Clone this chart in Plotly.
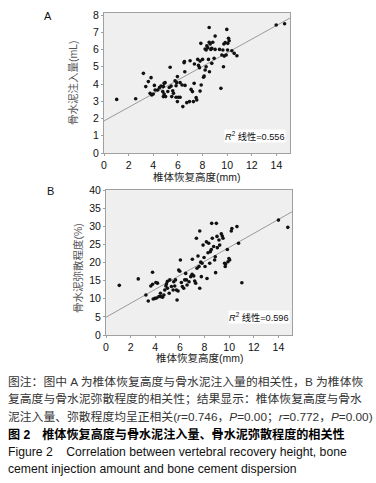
import plotly.graph_objects as go

# ---------- Data: panel A (recovery height vs cement injection amount) ----------
a_height = [1.03, 2.57, 3.2, 3.39, 3.6, 3.82, 3.74, 3.88, 4.0, 4.15, 4.09, 4.36, 4.5, 4.63,
            4.82, 4.88, 4.96, 4.77, 4.88, 4.82, 5.0, 5.18, 5.3, 5.37, 5.45, 5.58, 5.64, 5.5,
            5.77, 5.85, 5.96, 5.9, 6.04, 5.85, 5.96, 6.18, 6.4, 6.5, 6.53, 6.18, 6.34, 6.56,
            6.58, 6.72, 6.94, 6.99, 7.07, 7.18, 7.26, 7.32, 7.34, 7.48, 7.53, 7.61, 7.67, 7.75,
            7.8, 7.8, 7.89, 7.86, 8.0, 8.08, 8.21, 8.29, 8.35, 8.43, 8.54, 8.54, 8.62, 8.67,
            8.75, 8.83, 8.48, 8.29, 8.21, 8.13, 8.56, 8.75, 8.94, 9.02, 9.02, 9.38, 9.49, 9.57,
            9.65, 9.7, 9.73, 9.84, 9.76, 9.92, 9.97, 10.03, 10.05, 10.11, 10.16, 10.38, 10.57,
            10.79, 13.98, 14.66]
a_amount = [3.11, 3.15, 4.62, 3.85, 4.14, 4.37, 3.46, 3.36, 3.42, 3.65, 3.92, 3.65, 3.79, 3.88,
            3.85, 4.04, 4.08, 3.56, 3.42, 3.27, 3.27, 3.57, 3.8, 4.97, 3.88, 3.61, 3.46, 3.27,
            4.19, 3.9, 4.43, 4.08, 3.23, 3.23, 2.98, 3.23, 2.69, 5.24, 5.3, 4.08, 3.94, 4.71,
            3.92, 2.92, 2.98, 5.35, 3.69, 3.56, 2.98, 4.04, 5.16, 3.21, 3.07, 5.43, 5.08, 4.95,
            5.33, 3.59, 3.94, 6.36, 5.43, 4.39, 6.03, 5.97, 6.22, 6.1, 7.28, 6.42, 6.32, 6.01,
            6.07, 6.42, 5.43, 5.0, 4.81, 4.46, 4.71, 5.2, 5.49, 6.01, 6.78, 6.01, 3.75, 5.68,
            5.97, 5.0, 6.32, 6.4, 5.62, 5.68, 7.17, 5.97, 6.36, 6.65, 6.51, 5.93, 5.78,
            5.64, 7.42, 7.5]
a_fit_x = [0, 15.1]
a_fit_y = [1.86, 7.83]
a_r2 = "0.556"

# ---------- Data: panel B (recovery height vs cement dispersion) ----------
b_height = [1.08, 2.62, 3.24, 3.43, 3.64, 3.78, 3.78, 3.83, 3.97, 4.05, 4.1, 4.18, 4.29, 4.42,
            4.45, 4.59, 4.7, 4.77, 4.86, 4.99, 4.91, 4.99, 5.13, 5.18, 5.31, 5.45, 5.5, 5.58,
            5.64, 5.72, 5.77, 5.85, 5.9, 5.99, 6.04, 6.12, 6.2, 6.31, 6.39, 6.47, 6.53, 6.58,
            6.74, 6.88, 6.99, 7.01, 7.12, 7.2, 7.28, 7.34, 7.39, 7.47, 7.55, 7.61, 7.61, 7.69,
            7.74, 7.8, 7.88, 7.96, 8.04, 8.15, 8.2, 8.28, 8.34, 8.42, 8.47, 8.55, 8.58, 8.63,
            8.74, 8.82, 8.87, 8.9, 8.96, 9.01, 9.04, 9.17, 9.23, 9.36, 9.44, 9.5, 9.63, 9.68,
            9.71, 9.85, 9.9, 9.98, 10.04, 10.17, 10.22, 10.63, 10.76, 11.03, 14.0, 14.76]
b_dispersion = [13.7, 15.47, 11.05, 9.4, 13.5, 17.3, 14.0, 9.95, 10.1, 14.5, 10.2, 14.3, 10.6,
                11.5, 10.6, 10.4, 11.05, 12.4, 13.5, 14.8, 14.1, 12.9, 11.5, 15.2, 13.4, 12.4,
                14.7, 13.5, 15.2, 12.4, 9.67, 12.15, 17.9, 17.6, 20.7, 14.5, 13.4, 12.9, 15.2,
                17.0, 15.2, 13.8, 14.7, 16.1, 16.75, 20.9, 16.3, 14.9, 14.3, 26.7, 18.4, 21.8,
                18.9, 28.7, 12.9, 20.1, 16.1, 19.8, 24.8, 21.4, 18.9, 25.7, 15.6, 22.7, 25.3,
                19.8, 23.0, 23.6, 30.8, 26.7, 24.4, 20.7, 21.6, 17.2, 30.8, 27.2, 24.1, 26.2,
                24.8, 27.9, 27.3, 26.7, 19.8, 18.9, 19.6, 23.6, 20.2, 21.1, 20.7, 28.7, 29.4,
                29.9, 25.3, 14.4, 31.7, 29.7]
b_fit_x = [0, 15.1]
b_fit_y = [4.9, 34.0]
b_r2 = "0.596"

x_title = "椎体恢复高度(mm)"
a_y_title = "骨水泥注入量(mL)"
b_y_title = "骨水泥弥散程度(%)"

caption_lines = [
    "图注：图中 A 为椎体恢复高度与骨水泥注入量的相关性，B 为椎体恢",
    "复高度与骨水泥弥散程度的相关性；结果显示：椎体恢复高度与骨水",
    "泥注入量、弥散程度均呈正相关(<i>r</i>=0.746，<i>P</i>=0.00；<i>r</i>=0.772，<i>P</i>=0.00)",
]
caption_title_cn = "图 2　椎体恢复高度与骨水泥注入量、骨水泥弥散程度的相关性"
caption_title_en = [
    "Figure 2    Correlation between vertebral recovery height, bone",
    "cement injection amount and bone cement dispersion",
]

W, H = 376, 483
FONT = "Liberation Sans, Arial, Noto Sans CJK SC, sans-serif"
CJK = "Liberation Sans, Noto Sans CJK SC, sans-serif"

fig = go.Figure()

def px_x(p):
    return p / W

def px_y(p):
    return 1 - p / H

# Panel A
fig.add_trace(go.Scatter(x=a_fit_x, y=a_fit_y, mode="lines",
                         line=dict(color="#9a9a9a", width=1), xaxis="x", yaxis="y",
                         showlegend=False, hoverinfo="skip"))
fig.add_trace(go.Scatter(x=a_height, y=a_amount, mode="markers",
                         marker=dict(color="#111111", size=3.6), xaxis="x", yaxis="y",
                         showlegend=False))
# Panel B
fig.add_trace(go.Scatter(x=b_fit_x, y=b_fit_y, mode="lines",
                         line=dict(color="#9a9a9a", width=1), xaxis="x2", yaxis="y2",
                         showlegend=False, hoverinfo="skip"))
fig.add_trace(go.Scatter(x=b_height, y=b_dispersion, mode="markers",
                         marker=dict(color="#111111", size=3.6), xaxis="x2", yaxis="y2",
                         showlegend=False))

axis_common = dict(showgrid=False, zeroline=False, showline=True, mirror=True,
                   automargin=False,
                   linecolor="#a0a0a0", linewidth=1, ticks="outside", ticklen=2,
                   tickcolor="#a0a0a0", tickfont=dict(family=FONT, size=10.5, color="#111"))

fig.update_layout(
    template="none",
    width=W, height=H,
    margin=dict(l=0, r=0, t=0, b=0, pad=0),
    paper_bgcolor="white",
    plot_bgcolor="#efefef",
    font=dict(family=CJK, color="#111"),
    xaxis=dict(domain=[px_x(104), px_x(290)], range=[0, 15.1], anchor="y",
               tickvals=[0, 2, 4, 6, 8, 10, 12, 14], **axis_common),
    yaxis=dict(domain=[px_y(153), px_y(13)], range=[0, 8.12], anchor="x",
               tickvals=list(range(0, 9)), **axis_common),
    xaxis2=dict(domain=[px_x(106), px_x(292)], range=[0, 15.1], anchor="y2",
                tickvals=[0, 2, 4, 6, 8, 10, 12, 14], **axis_common),
    yaxis2=dict(domain=[px_y(335), px_y(190)], range=[0, 40], anchor="x2",
                tickvals=list(range(0, 41, 5)), **axis_common),
)

ann = []
def label(x, y, text, size, color="#111", family=CJK, angle=0):
    ann.append(dict(x=px_x(x), y=px_y(y), xref="paper", yref="paper", text=text,
                    xanchor="center", yanchor="middle", textangle=angle,
                    showarrow=False, font=dict(family=family, size=size, color=color)))

# panel letters
label(48, 16, "A", 11, family=FONT)
label(50, 191, "B", 11, family=FONT)
# axis titles
label(197, 176.5, x_title, 10.5, color="#222")
label(200, 358, x_title, 10.5, color="#222")
label(73, 83, a_y_title, 10.5, color="#555", angle=-90)
label(78, 268, b_y_title, 10.5, color="#555", angle=-90)

# R^2 labels
ann.append(dict(x=14.75, y=0.99, xref="x", yref="y", xanchor="right", yanchor="middle",
                text="<i>R</i><sup>2</sup> 线性=" + a_r2, showarrow=False, bgcolor="white",
                borderpad=0, font=dict(family=CJK, size=9.2, color="#111")))
ann.append(dict(x=14.95, y=5.0, xref="x2", yref="y2", xanchor="right", yanchor="middle",
                text="<i>R</i><sup>2</sup> 线性=" + b_r2, showarrow=False, bgcolor="white",
                borderpad=0, font=dict(family=CJK, size=9.2, color="#111")))

# caption
def cap(y, text, size, color, family=CJK):
    ann.append(dict(x=px_x(6), y=px_y(y), xref="paper", yref="paper", xanchor="left",
                    yanchor="middle", text=text, showarrow=False,
                    font=dict(family=family, size=size, color=color)))

for t, yy in zip(caption_lines, [382, 399, 417]):
    cap(yy, t, 11.8, "#333")
cap(434, "<b>" + caption_title_cn + "</b>", 12.1, "#000")
for t, yy in zip(caption_title_en, [452, 469]):
    cap(yy, t, 12.2, "#111", FONT)

fig.update_layout(annotations=ann)

fig.write_html("out.html", config={"displayModeBar": False},
               post_script="document.body.style.margin='0';")
